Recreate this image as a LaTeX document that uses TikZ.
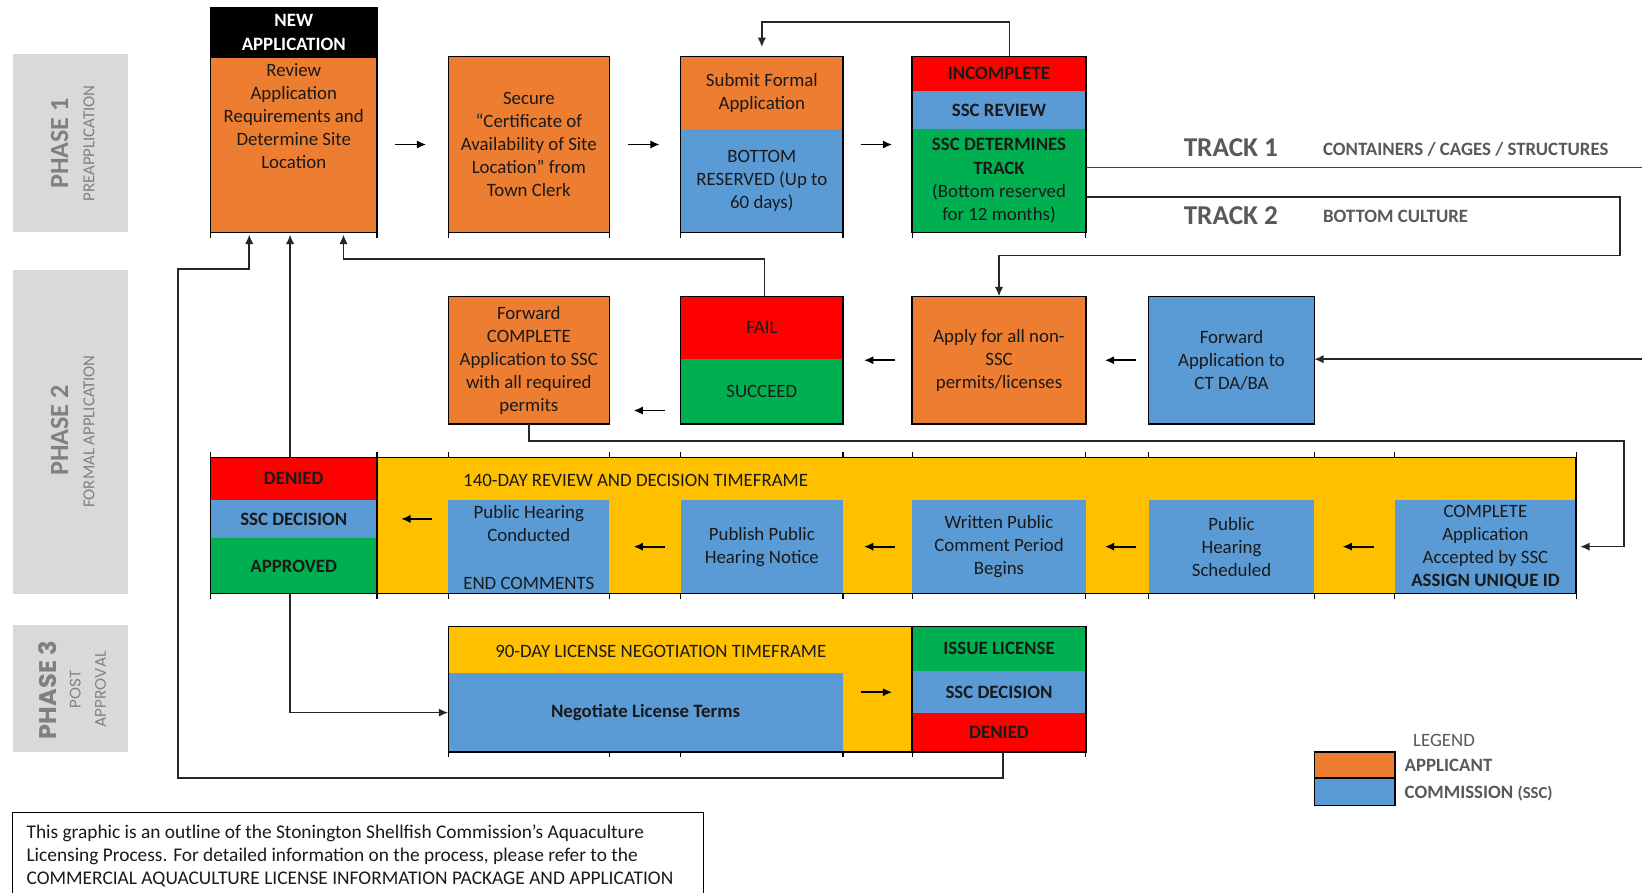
\documentclass[tikz,border=0pt]{standalone}
\usepackage{fontspec}
\setmainfont{Carlito}
\newfontfamily\gothfont{Poppins}
\usetikzlibrary{arrows.meta,calc}
\definecolor{cOr}{HTML}{ED7D31}
\definecolor{cBl}{HTML}{5B9BD5}
\definecolor{cGr}{HTML}{00B050}
\definecolor{cRd}{HTML}{FF0000}
\definecolor{cYl}{HTML}{FFC000}
\definecolor{cPh}{HTML}{D9D9D9}
\definecolor{cPt}{HTML}{808080}
\definecolor{cTk}{HTML}{595959}
\definecolor{cTx}{HTML}{1A1A1A}
\newcommand\bodyfont{\fontsize{9}{11}\selectfont}
\newcommand\cell[7]{\node[#6, minimum width={(#4-#2)*0.5pt}, minimum height={(#5-#3)*0.5pt}, anchor=north west] (#1) at (#2,#3) {#7};}
\begin{document}
\begin{tikzpicture}[x=0.5pt,y=-0.5pt,
  fillcell/.style={inner sep=0pt, outer sep=0pt, align=center, font=\bodyfont, text=cTx},
  bordcell/.style={fillcell, draw=black, line width=0.6pt},
  boldcell/.style={fillcell, font=\bodyfont\bfseries},
  bord/.style={draw=black, line width=0.6pt},
  txt/.style={inner sep=0pt, align=center, font=\bodyfont, text=cTx},
  arr/.style={-{Latex[length=4.5pt,width=4pt]}, line width=0.9pt, draw=black},
  arrgap/.style 2 args={shorten <=#1, shorten >=#2},
  conn/.style={line width=0.8pt, draw=black!75},
  connarr/.style={conn, -{Latex[length=4.5pt,width=4pt]}, draw=black!85},
  phasebox/.style={fill=cPh, inner sep=0pt, outer sep=0pt},
  phbig/.style={rotate=90, font=\fontsize{12.5}{14}\selectfont\bfseries, text=cPt, inner sep=0pt},
  phsmall/.style={rotate=90, font=\fontsize{8}{12}\selectfont, text=cPt, inner sep=0pt, align=center},
  trkbig/.style={font=\fontsize{13}{15}\selectfont\bfseries, text=cTk, inner sep=0pt, anchor=west},
  trksmall/.style={font=\fontsize{9}{11}\selectfont\bfseries, text=cTk, inner sep=0pt, anchor=west},
  legtxt/.style={font=\fontsize{9}{11}\selectfont, text=cTk, inner sep=0pt, anchor=west},
  tickmark/.style={line width=0.5pt, draw=black}
]
\useasboundingbox (0,0) rectangle (1568,852);
\clip (0,0) rectangle (1568,852);
\fill[white] (0,0) rectangle (1568,852);

% phase labels
\cell{ph1}{12}{52}{122}{222}{phasebox}{}
\cell{ph2}{12}{258}{122}{567}{phasebox}{}
\cell{ph3}{12}{597}{122}{718}{phasebox}{}
\node[phbig] (ph1a) at (57,137) {PHASE 1};
\node[phsmall] (ph1b) at (85,137) {PREAPPLICATION};
\node[phbig] (ph2a) at (57,411) {PHASE 2};
\node[phsmall] (ph2b) at (85,412) {FORMAL APPLICATION};
\node[phbig, font=\gothfont\fontsize{11.5}{13}\selectfont\bfseries] (ph3a) at (45,659) {PHASE 3};
\node[phsmall, font=\gothfont\fontsize{7.3}{12}\selectfont] (ph3b) at (84,658) {POST\\APPROVAL};

% row 1
\cell{nah}{201}{7}{360}{55}{bordcell, fill=black, text=white, font=\bodyfont\bfseries}{NEW\\APPLICATION}
\cell{nab}{201}{55}{360}{222}{bordcell, fill=cOr}{}
\node[txt, anchor=north] (nabt) at (280.5,60) {Review\\Application\\Requirements and\\Determine Site\\Location};
\cell{sec}{428}{54}{582}{222}{bordcell, fill=cOr}{Secure\\“Certificate of\\Availability of Site\\Location” from\\Town Clerk}
\cell{sub}{650}{54}{805}{123}{fillcell, fill=cOr}{Submit Formal\\Application}
\cell{bot}{650}{123}{805}{222}{fillcell, fill=cBl}{BOTTOM\\RESERVED (Up to\\60 days)}
\draw[bord] (sub.north west) rectangle (bot.south east);
\cell{inc}{871}{54}{1037}{87}{boldcell, fill=cRd}{INCOMPLETE}
\cell{rev}{871}{87}{1037}{123}{boldcell, fill=cBl}{SSC REVIEW}
\cell{trk}{871}{123}{1037}{222}{fillcell, fill=cGr}{\textbf{SSC DETERMINES}\\\textbf{TRACK}\\(Bottom reserved\\for 12 months)}
\draw[bord] (inc.north west) rectangle (trk.south east);

\draw[arr, arrgap={8.5pt}{10.5pt}] (nab.east |- sec.west) -- (sec.west);
\draw[arr, arrgap={9pt}{10pt}] (sec.east) -- (sub.west |- sec.east);
\draw[arr, arrgap={8.5pt}{9.5pt}] (bot.east |- sec.east) -- (trk.west |- sec.east);

% tracks
\node[trkbig] (tk1) at (1130,141) {TRACK 1};
\node[trksmall] (tk1s) at (1263,143) {CONTAINERS / CAGES / STRUCTURES};
\node[trkbig] (tk2) at (1130,206) {TRACK 2};
\node[trksmall] (tk2s) at (1263,207) {BOTTOM CULTURE};
\coordinate (t1e) at (1568,160);
\draw[conn] (trk.east |- t1e) -- (t1e);

% row 2
\cell{fwdc}{428}{283}{582}{405}{bordcell, fill=cOr}{Forward\\COMPLETE\\Application to SSC\\with all required\\permits}
\cell{fail}{650}{283}{805}{343}{fillcell, fill=cRd}{FAIL}
\cell{succ}{650}{343}{805}{405}{fillcell, fill=cGr}{SUCCEED}
\draw[bord] (fail.north west) rectangle (succ.south east);
\cell{apply}{871}{283}{1037}{405}{bordcell, fill=cOr}{Apply for all non-\\SSC\\permits/licenses}
\cell{fct}{1097}{283}{1255}{405}{bordcell, fill=cBl}{Forward\\Application to\\CT DA/BA}

\draw[arr, arrgap={6pt}{9pt}] (fct.west) -- (apply.east);
\draw[arr, arrgap={8pt}{10pt}] (apply.west) -- (fail.east |- apply.west);
\coordinate (sarr) at ([yshift=-9pt]succ.west);
\draw[arr, arrgap={7.5pt}{11.5pt}] (sarr) -- (sarr -| fwdc.east);

% timeline row
\cell{band}{360}{437}{1505}{567}{fillcell, fill=cYl}{}
\cell{den2}{201}{437}{360}{477}{boldcell, fill=cRd}{DENIED}
\cell{dec2}{201}{477}{360}{514}{boldcell, fill=cBl}{SSC DECISION}
\cell{appr}{201}{514}{360}{567}{boldcell, fill=cGr}{APPROVED}
\node[txt] (t140) at (607,459) {140-DAY REVIEW AND DECISION TIMEFRAME};
\cell{phc}{428}{477}{582}{567}{fillcell, fill=cBl}{}
\node[txt, anchor=north] (phct) at (505,482) {Public Hearing\\Conducted};
\node[txt] (endc) at (505,557) {END COMMENTS};
\cell{pub}{650}{477}{805}{567}{fillcell, fill=cBl}{Publish Public\\Hearing Notice}
\cell{wri}{871}{477}{1037}{567}{fillcell, fill=cBl}{Written Public\\Comment Period\\Begins}
\cell{phs}{1097}{477}{1255}{567}{fillcell, fill=cBl}{Public\\Hearing\\Scheduled}
\cell{compl}{1332}{477}{1505}{567}{fillcell, fill=cBl}{COMPLETE\\Application\\Accepted by SSC\\\textbf{ASSIGN UNIQUE ID}}
\draw[bord] (den2.north west) rectangle (band.south east);
\draw[bord] (band.north west) -- (band.south west);
\foreach \x in {201,360,428,582,650,805,871,1037,1097,1255,1332,1505} {
  \draw[tickmark] (\x,432) -- (\x,437);
  \draw[tickmark] (\x,567) -- (\x,572);
}
\foreach \x in {201,360,428,582,650,805,871,1037} {
  \draw[tickmark] (\x,222) -- (\x,227);
}

\draw[arr, arrgap={10pt}{13.5pt}] (compl.west) -- (phs.east);
\draw[arr, arrgap={6pt}{9pt}] (phs.west) -- (wri.east);
\draw[arr, arrgap={8pt}{10pt}] (wri.west) -- (pub.east);
\draw[arr, arrgap={7.5pt}{11.5pt}] (pub.west) -- (phc.east);
\draw[arr, arrgap={7.5pt}{11.5pt}] (phc.west |- dec2.east) -- (dec2.east);

% phase 3
\cell{y90}{428}{598}{871}{718}{fillcell, fill=cYl}{}
\node[txt] (t90) at (631,622) {90-DAY LICENSE NEGOTIATION TIMEFRAME};
\cell{neg}{428}{643}{805}{718}{boldcell, fill=cBl}{Negotiate License Terms}
\cell{iss}{871}{598}{1037}{641}{boldcell, fill=cGr}{ISSUE LICENSE}
\cell{dec3}{871}{641}{1037}{681}{boldcell, fill=cBl}{SSC DECISION}
\cell{den3}{871}{681}{1037}{718}{boldcell, fill=cRd}{DENIED}
\draw[bord] (y90.north west) rectangle (den3.south east);
\draw[bord] (iss.north west) -- (den3.south west);
\foreach \x in {428,582,650,805,871,1037} {
  \draw[tickmark] (\x,718) -- (\x,723);
}
\draw[arr, arrgap={8.5pt}{9.5pt}] (neg.east |- dec3.west) -- (dec3.west);

% connectors
\draw[connarr, shorten >=4.5pt] ([xshift=5pt]inc.north) -- ++(0,-33) -| (sub.north);
\coordinate (t2a) at (1547,188);
\coordinate (t2b) at (1547,244);
\draw[connarr] (trk.east |- t2a) -- (t2a) -- (t2b) -| (apply.north);
\coordinate (fl) at (730,247);
\draw[connarr, shorten >=1pt] ([xshift=1.25pt]fail.north) -- (fl) -| ([xshift=23.75pt]nab.south);
\coordinate (fr) at (1551,421);
\draw[connarr, shorten >=2pt] (fwdc.south) |- (fr) |- (compl.east);
\coordinate (re) at (1568,343);
\draw[connarr] (re) -- (fct.east |- re);
\draw[connarr, shorten >=1pt] ([xshift=-1.75pt]den2.north) -- ([xshift=-1.75pt]nab.south);
\draw[connarr] ([xshift=-1.75pt]appr.south) |- (neg.west);
\coordinate (bl) at (170,743);
\coordinate (bu) at (170,257);
\draw[connarr, shorten >=1pt] ([xshift=2pt]den3.south) |- (bl) -- (bu) -| ([xshift=-21.25pt]nab.south);

% legend
\node[legtxt] (legT) at (1349,707) {LEGEND};
\cell{legO}{1255}{718}{1332}{743}{bordcell, fill=cOr}{}
\cell{legB}{1255}{743}{1332}{769}{bordcell, fill=cBl}{}
\node[legtxt, font=\fontsize{9}{11}\selectfont\bfseries] (legA) at (1341,731) {APPLICANT};
\node[legtxt, font=\fontsize{9}{11}\selectfont\bfseries] (legC) at (1341,758) {COMMISSION {\fontsize{8}{9}\selectfont(SSC)}};

% footer
\cell{foot}{12}{776}{672}{880}{bordcell}{}
\node[txt, anchor=north west, align=left, font=\fontsize{9.25}{11}\selectfont] (foott) at (25,787) {This graphic is an outline of the Stonington Shellfish Commission’s Aquaculture\\Licensing Process. For detailed information on the process, please refer to the\\COMMERCIAL AQUACULTURE LICENSE INFORMATION PACKAGE AND APPLICATION};
\end{tikzpicture}
\end{document}
